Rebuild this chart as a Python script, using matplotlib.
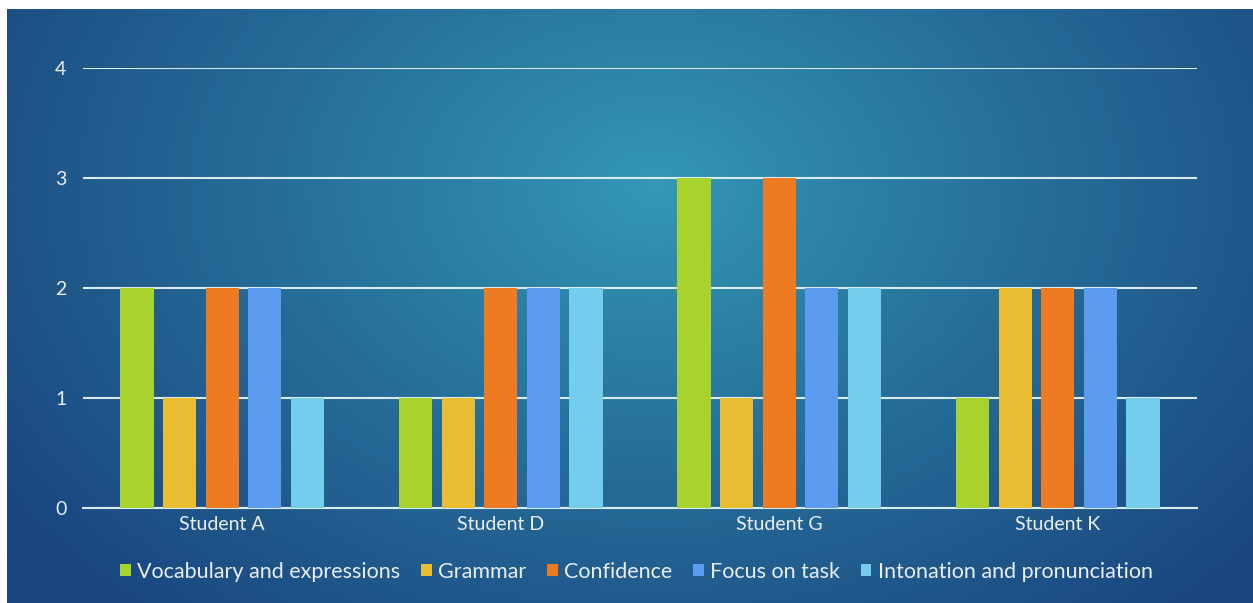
import numpy as np
import matplotlib.pyplot as plt
from matplotlib.colors import to_rgb

plt.rcParams['font.family'] = ['Lato', 'DejaVu Sans']

students = ['Student A', 'Student D', 'Student G', 'Student K']
series = ['Vocabulary and expressions', 'Grammar', 'Confidence',
          'Focus on task', 'Intonation and pronunciation']
vocab = [2, 1, 3, 1]
grammar = [1, 1, 1, 2]
confidence = [2, 2, 3, 2]
focus = [2, 2, 2, 2]
intonation = [1, 2, 2, 1]
yticks = [0, 1, 2, 3, 4]

colors = ['#a8d22e', '#e8bd31', '#ee7b22', '#5b9cf0', '#74cdec']
txt = '#e8eef2'

W, H = 1253, 603
fig = plt.figure(figsize=(W / 100, H / 100), dpi=100, facecolor='white')

# background: radial gradient
bg = fig.add_axes([7 / W, 0, 1 - 7 / W, 1 - 9 / H])
xx, yy = np.meshgrid(np.linspace(0, 1, 400), np.linspace(0, 1, 200))
d = np.sqrt(((xx - 0.52) / 0.62) ** 2 + ((yy - 0.30) / 0.95) ** 2)
d = np.clip(d, 0, 1)
c_in = np.array(to_rgb('#3499b6'))
c_out = np.array(to_rgb('#1a4780'))
img = c_in[None, None, :] * (1 - d[..., None] ** 0.9) + c_out[None, None, :] * d[..., None] ** 0.9
bg.imshow(img, aspect='auto', extent=[0, 1, 1, 0])
bg.axis('off')

ax = fig.add_axes([83 / W, 1 - 508 / H, (1197 - 83) / W, (508 - 68) / H])
ax.patch.set_alpha(0)

data = [vocab, grammar, confidence, focus, intonation]
x = np.arange(len(students))
width = 0.119
step = 0.153
for i, (vals, name) in enumerate(zip(data, series)):
    ax.bar(x + (i - 2) * step, vals, width, color=colors[i], label=name, zorder=3)

ax.set_xlim(-0.5, len(students) - 0.5)
ax.set_ylim(0, 4)
ax.set_yticks(yticks)
ax.set_xticks(x)
ax.set_xticklabels(students)
ax.grid(axis='y', color='#d8ecef', lw=1.5, zorder=1)
for s in ['top', 'right', 'left']:
    ax.spines[s].set_visible(False)
ax.spines['bottom'].set_color('#d8ecef')
ax.spines['bottom'].set_linewidth(1.5)
ax.tick_params(axis='both', length=0, colors=txt, labelsize=14)
ax.tick_params(axis='y', pad=12)
ax.tick_params(axis='x', pad=6)

leg = fig.legend(loc='center', bbox_to_anchor=(0.508, 1 - 572 / H), ncol=5,
                 frameon=False, fontsize=15.5, handlelength=0.5, handleheight=0.5,
                 handletextpad=0.3, columnspacing=0.95)
for t in leg.get_texts():
    t.set_color(txt)

fig.savefig('out.png', dpi=100)
